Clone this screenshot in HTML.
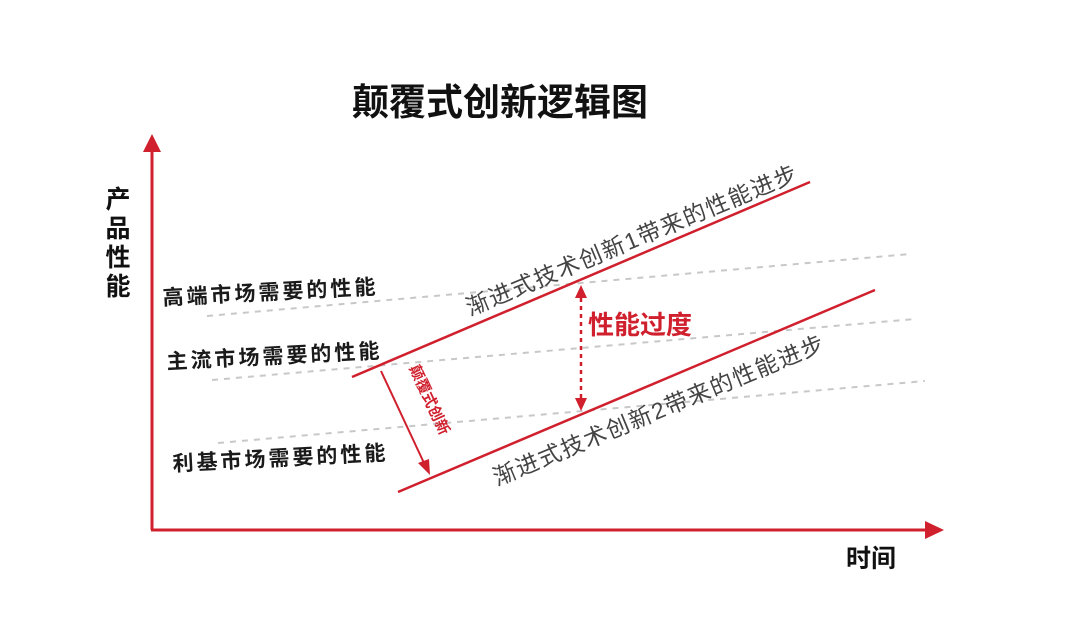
<!DOCTYPE html>
<html><head><meta charset="utf-8"><style>
html,body{margin:0;padding:0;background:#fff;}
svg{display:block;}
text{font-family:"Liberation Sans","Noto Sans CJK SC",sans-serif;}
</style></head><body>
<svg width="1080" height="629" viewBox="0 0 1080 629" xmlns="http://www.w3.org/2000/svg">
<text x="500" y="115" text-anchor="middle" font-size="37" font-weight="bold" fill="#111">颠覆式创新逻辑图</text>
<!-- axes -->
<line x1="152" y1="530" x2="152" y2="150" stroke="#d0202e" stroke-width="3"/>
<polygon points="152,134 143,152 161,152" fill="#d0202e"/>
<line x1="151" y1="530" x2="926" y2="530" stroke="#d0202e" stroke-width="3"/>
<polygon points="944,530 925,521 925,539" fill="#d0202e"/>
<text font-size="25" font-weight="bold" fill="#111" text-anchor="middle"><tspan x="118" y="208">产</tspan><tspan x="118" y="237">品</tspan><tspan x="118" y="266">性</tspan><tspan x="118" y="295">能</tspan></text>
<text x="871" y="567" text-anchor="middle" font-size="25" font-weight="bold" fill="#111">时间</text>
<!-- dashed -->
<g stroke="#c8c8c8" stroke-width="2" stroke-dasharray="6,6">
<line x1="207" y1="316" x2="910" y2="254"/>
<line x1="212" y1="380" x2="915" y2="319"/>
<line x1="218" y1="443" x2="925" y2="381"/>
</g>
<!-- left labels -->
<g font-size="21" font-weight="bold" fill="#1a1a1a" letter-spacing="3">
<text transform="translate(163,305) rotate(-3)">高端市场需要的性能</text>
<text transform="translate(167,369) rotate(-3)">主流市场需要的性能</text>
<text transform="translate(173,471) rotate(-3)">利基市场需要的性能</text>
</g>
<!-- red lines -->
<line x1="352" y1="377" x2="810" y2="182" stroke="#d0202e" stroke-width="2.5"/>
<line x1="398" y1="492" x2="875" y2="290" stroke="#d0202e" stroke-width="2.5"/>
<!-- gray slanted texts -->
<g font-size="23" fill="#444" letter-spacing="1.5">
<text transform="translate(470,316) rotate(-22.5)">渐进式技术创新1带来的性能进步</text>
<text transform="translate(497,486) rotate(-22.5)">渐进式技术创新2带来的性能进步</text>
</g>
<!-- dotted vertical -->
<line x1="581" y1="298" x2="581" y2="400" stroke="#d0202e" stroke-width="2.5" stroke-dasharray="4,4"/>
<polygon points="581,285 575,298 587,298" fill="#d0202e"/>
<polygon points="581,411 575,398 587,398" fill="#d0202e"/>
<text x="588" y="334" font-size="26" font-weight="bold" fill="#d0202e">性能过度</text>
<!-- disruptive arrow -->
<line x1="381" y1="371" x2="424" y2="463" stroke="#d0202e" stroke-width="2"/>
<polygon points="430,475 418,463 429,459" fill="#d0202e"/>
<text transform="translate(409,368) rotate(65)" font-size="15" font-weight="bold" fill="#d0202e">颠覆式创新</text>
</svg>
</body></html>
